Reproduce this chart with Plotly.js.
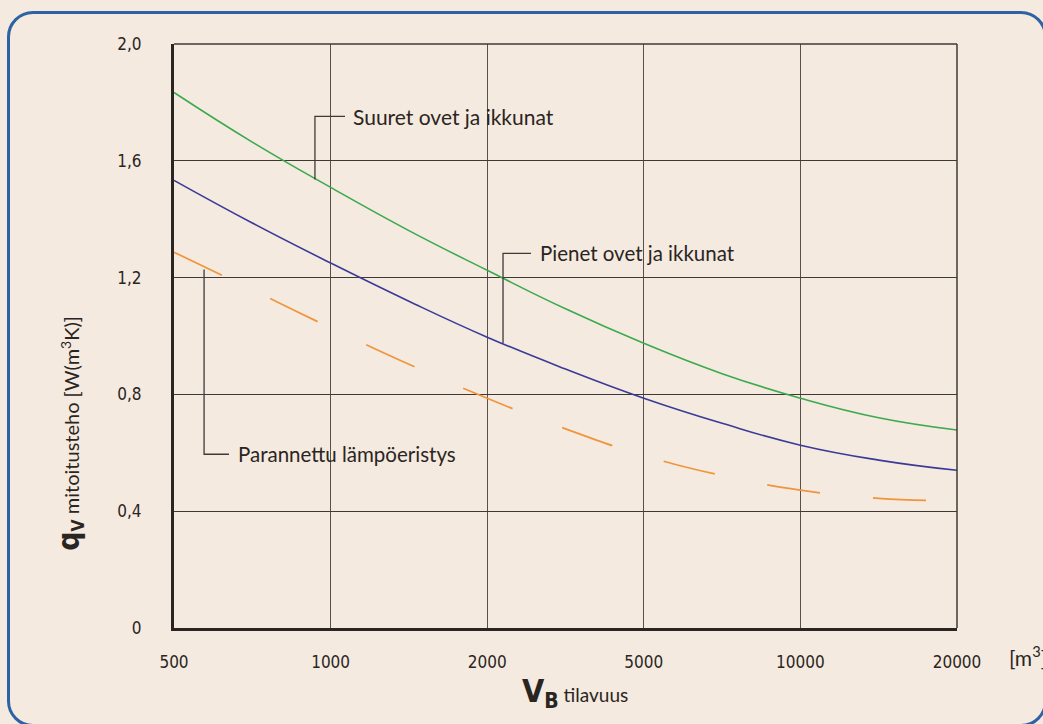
<!DOCTYPE html>
<html>
<head>
<meta charset="utf-8">
<script src="https://cdn.plot.ly/plotly-3.0.1.min.js"></script>
<style>
  html, body { margin:0; padding:0; background:#f4eae0; overflow:hidden; }
  #chart { position:absolute; left:0; top:0; width:1043px; height:724px; }
  #frame { position:absolute; left:7px; top:11px; width:1040px; height:716px; box-sizing:border-box;
           border:3px solid #2f62a3; border-radius:26px; pointer-events:none; }
</style>
</head>
<body>
<div id="chart"></div>
<div id="frame"></div>
<script>
// Tick labels of the (evenly spaced) volume axis
const volumeLabels = ['500', '1000', '2000', '5000', '10000', '20000'];
const volumePos = [0, 1, 2, 3, 4, 5];
const yTickVals = [0, 0.4, 0.8, 1.2, 1.6, 2.0];
const yTickText = ['0', '0,4', '0,8', '1,2', '1,6', '2,0'];

// Series: "Suuret ovet ja ikkunat" (green)
const largeX = [0, 0.5, 1.0, 1.5, 2.0, 2.5, 3.0, 3.5, 4.0, 4.5, 5.0];
const largeY = [1.834, 1.664, 1.509, 1.361, 1.225, 1.093, 0.975, 0.871, 0.787, 0.72, 0.678];

// Series: "Pienet ovet ja ikkunat" (blue)
const smallX = [0, 0.5, 1.0, 1.5, 2.0, 2.5, 3.0, 3.5, 4.0, 4.5, 5.0];
const smallY = [1.533, 1.387, 1.25, 1.119, 0.996, 0.887, 0.787, 0.701, 0.626, 0.575, 0.540];

// Series: "Parannettu lämpöeristys" (orange dashed)
const insulX = [0, 0.5, 1.0, 1.5, 2.0, 2.5, 3.0, 3.5, 4.0, 4.5, 5.0];
const insulY = [1.287, 1.158, 1.028, 0.903, 0.787, 0.682, 0.591, 0.522, 0.472, 0.444, 0.436];

const labelFont = 'Lato, "Noto Sans", sans-serif';
const narrowFont = '"DejaVu Sans Condensed", "Liberation Sans Narrow", "Liberation Sans", sans-serif';
const inkColor = '#2b2522';

const traces = [
  { x: largeX, y: largeY, type: 'scatter', mode: 'lines',
    line: { color: '#3aaa4c', width: 1.6, shape: 'spline', smoothing: 1.3 }, hoverinfo: 'skip' },
  { x: smallX, y: smallY, type: 'scatter', mode: 'lines',
    line: { color: '#3b3a97', width: 1.6, shape: 'spline', smoothing: 1.3 }, hoverinfo: 'skip' },
  { x: insulX, y: insulY, type: 'scatter', mode: 'lines',
    line: { color: '#f0953b', width: 1.7, shape: 'spline', smoothing: 1.3, dash: '53px,53.6px' }, hoverinfo: 'skip' }
];

const leaderStyle = { color: '#3f3a37', width: 1.3 };
const frameStyle = { color: '#3f3936', width: 1.5 };
const shapes = [
  // top and right border of the grid
  { type: 'line', xref: 'paper', yref: 'paper', x0: 0, x1: 1, y0: 1, y1: 1, line: frameStyle },
  { type: 'line', xref: 'paper', yref: 'paper', x0: 1, x1: 1, y0: 0, y1: 1, line: frameStyle },
  // leader lines
  { type: 'path', xref: 'x', yref: 'y', path: 'M 0.900,1.536 L 0.900,1.752 L 1.092,1.752', line: leaderStyle },
  { type: 'path', xref: 'x', yref: 'y', path: 'M 2.101,0.975 L 2.101,1.283 L 2.280,1.283', line: leaderStyle },
  { type: 'path', xref: 'x', yref: 'y', path: 'M 0.192,1.228 L 0.192,0.595 L 0.351,0.595', line: leaderStyle }
];

const B = "font-family:'DejaVu Sans Condensed';font-weight:bold;";
const annotations = [
  { x: 1.130, y: 1.752, xref: 'x', yref: 'y', text: 'Suuret ovet ja ikkunat', showarrow: false,
    xanchor: 'left', yanchor: 'middle', font: { family: labelFont, size: 21, color: inkColor } },
  { x: 2.324, y: 1.283, xref: 'x', yref: 'y', text: 'Pienet ovet ja ikkunat', showarrow: false,
    xanchor: 'left', yanchor: 'middle', font: { family: labelFont, size: 20.5, color: inkColor } },
  { x: 0.396, y: 0.595, xref: 'x', yref: 'y', text: 'Parannettu lämpöeristys', showarrow: false,
    xanchor: 'left', yanchor: 'middle', font: { family: labelFont, size: 20.5, color: inkColor } },
  // y axis title
  { x: -0.133, y: 0.334, xref: 'paper', yref: 'paper', textangle: -90, showarrow: false,
    xanchor: 'center', yanchor: 'middle',
    text: "<span style=\"" + B + "font-size:30px\">q</span><span style=\"" + B + "font-size:25px\"><sub>V</sub></span> mitoitusteho [W(m<sup>3</sup>K)]",
    font: { family: labelFont, size: 20, color: inkColor } },
  // x axis title
  { x: 0.512, y: -0.111, xref: 'paper', yref: 'paper', showarrow: false,
    xanchor: 'center', yanchor: 'middle',
    text: "<span style=\"" + B + "font-size:32px\">V</span><span style=\"" + B + "font-size:30px\"><sub>B</sub></span> tilavuus",
    font: { family: labelFont, size: 19, color: inkColor } },
  // unit
  { x: 1.064, y: -0.048, xref: 'paper', yref: 'paper', showarrow: false,
    xanchor: 'left', yanchor: 'middle', text: '[m<sup>3</sup>]',
    font: { family: labelFont, size: 21, color: inkColor } }
];

const layout = {
  width: 1043, height: 724,
  margin: { l: 174, r: 86, t: 43.5, b: 96 },
  paper_bgcolor: '#f4eae0', plot_bgcolor: '#f4eae0',
  showlegend: false,
  xaxis: {
    range: [0, 5], tickvals: volumePos, ticktext: volumeLabels,
    showgrid: true, gridcolor: '#57504c', gridwidth: 1.3,
    showline: true, linecolor: inkColor, linewidth: 3, zeroline: false,
    ticks: '', ticklabelstandoff: 17,
    tickfont: { family: narrowFont, size: 17, color: inkColor }, fixedrange: true
  },
  yaxis: {
    range: [0, 2], tickvals: yTickVals, ticktext: yTickText,
    showgrid: true, gridcolor: '#3f3936', gridwidth: 1.3,
    showline: true, linecolor: inkColor, linewidth: 3, zeroline: false,
    ticks: '', ticklabelstandoff: 26,
    tickfont: { family: narrowFont, size: 17, color: inkColor }, fixedrange: true
  },
  shapes: shapes,
  annotations: annotations
};

Plotly.newPlot('chart', traces, layout, { staticPlot: true, displayModeBar: false });
</script>
</body>
</html>
